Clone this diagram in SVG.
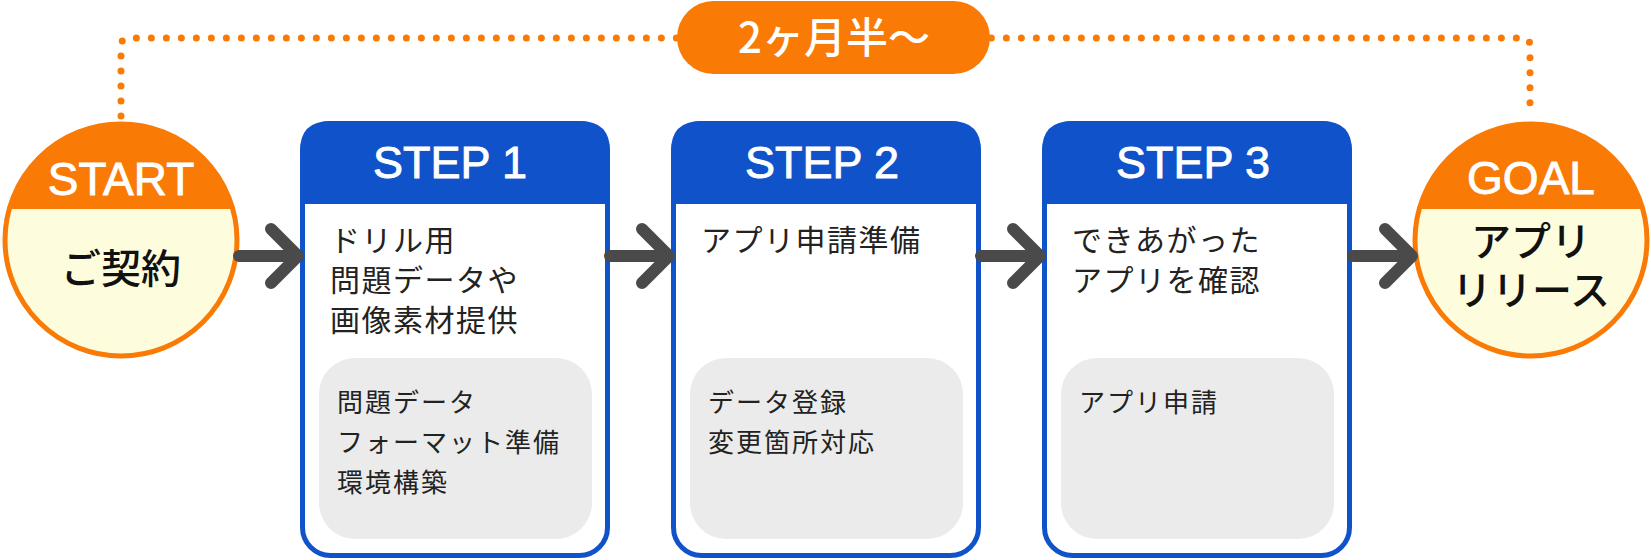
<svg xmlns="http://www.w3.org/2000/svg" width="1651" height="560" viewBox="0 0 1651 560">
<defs>
<style>
.jp{font-family:"Noto Sans CJK JP","Noto Sans",sans-serif;}
.lat{font-family:"Liberation Sans",Arial,sans-serif;font-weight:normal;fill:#fff;stroke:#fff;stroke-width:0.9px;}
.body{font-size:30px;letter-spacing:1.5px;fill:#222;}
.sub{font-size:26px;letter-spacing:2px;fill:#222;}
.circ{font-size:40px;font-weight:500;fill:#111;text-anchor:middle;}
.hdr{font-size:45px;text-anchor:middle;}
.box{fill:#fff;stroke:#0f52c9;stroke-width:5;}
.head{fill:#0f52c9;}
.grey{fill:#ebebeb;}
.arrow{fill:none;stroke:#4a4a4a;stroke-width:12;stroke-linecap:round;stroke-linejoin:round;}
.cream{fill:#fdfcdc;}
.orange{fill:#f97a05;}
.ring{fill:none;stroke:#f97a05;stroke-width:5;}
</style>
<clipPath id="cs"><circle cx="121" cy="240" r="117"/></clipPath>
<clipPath id="cg"><circle cx="1531" cy="240" r="117"/></clipPath>
</defs>
<g id="duration">
<path d="M121,116 V46 Q121,38 129,38 H1522 Q1530,38 1530,46 V116" fill="none" stroke="#f97a05" stroke-width="7" stroke-linecap="round" stroke-dasharray="0 15"/>
<rect x="677" y="1" width="313" height="73" rx="36.5" class="orange"/>
<text x="834" y="53" class="jp" font-size="42" font-weight="500" fill="#fff" text-anchor="middle">2ヶ月半〜</text>
</g>
<g id="start">
<circle cx="121" cy="240" r="117" class="cream"/>
<rect x="0" y="100" width="250" height="109" class="orange" clip-path="url(#cs)"/>
<circle cx="121" cy="240" r="116" class="ring"/>
<text x="121" y="195" class="lat" font-size="46" text-anchor="middle">START</text>
<text x="121" y="283" class="jp circ">ご契約</text>
</g>
<g id="step1">
<rect x="302.5" y="123.5" width="305" height="432" rx="28" class="box"/>
<path d="M300,204 V151 Q300,121 330,121 H580 Q610,121 610,151 V204 Z" class="head"/>
<text x="450" y="178" class="lat hdr">STEP 1</text>
<text class="jp body"><tspan x="330" y="251">ドリル用</tspan><tspan x="330" y="291">問題データや</tspan><tspan x="330" y="331">画像素材提供</tspan></text>
<rect x="319" y="358" width="273" height="181" rx="36" class="grey"/>
<text class="jp sub"><tspan x="337" y="412">問題データ</tspan><tspan x="337" y="452">フォーマット準備</tspan><tspan x="337" y="492">環境構築</tspan></text>
</g>
<g id="step2">
<rect x="673.5" y="123.5" width="305" height="432" rx="28" class="box"/>
<path d="M671,204 V151 Q671,121 701,121 H951 Q981,121 981,151 V204 Z" class="head"/>
<text x="822" y="178" class="lat hdr">STEP 2</text>
<text class="jp body"><tspan x="701" y="251">アプリ申請準備</tspan></text>
<rect x="690" y="358" width="273" height="181" rx="36" class="grey"/>
<text class="jp sub"><tspan x="708" y="412">データ登録</tspan><tspan x="708" y="452">変更箇所対応</tspan></text>
</g>
<g id="step3">
<rect x="1044.5" y="123.5" width="305" height="432" rx="28" class="box"/>
<path d="M1042,204 V151 Q1042,121 1072,121 H1322 Q1352,121 1352,151 V204 Z" class="head"/>
<text x="1193" y="178" class="lat hdr">STEP 3</text>
<text class="jp body"><tspan x="1072" y="251">できあがった</tspan><tspan x="1072" y="291">アプリを確認</tspan></text>
<rect x="1061" y="358" width="273" height="181" rx="36" class="grey"/>
<text class="jp sub"><tspan x="1079" y="412">アプリ申請</tspan></text>
</g>
<g id="goal">
<circle cx="1531" cy="240" r="117" class="cream"/>
<rect x="1400" y="100" width="251" height="109" class="orange" clip-path="url(#cg)"/>
<circle cx="1531" cy="240" r="116" class="ring"/>
<text x="1531" y="194" class="lat" font-size="46" text-anchor="middle">GOAL</text>
<text x="1531" y="256" class="jp circ">アプリ</text>
<text x="1531" y="305" class="jp circ">リリース</text>
</g>
<g id="connectors">
<path d="M239,256 H298 M271,229 L298,256 L271,283" class="arrow"/>
<path d="M610,256 H669 M642,229 L669,256 L642,283" class="arrow"/>
<path d="M981,256 H1040 M1013,229 L1040,256 L1013,283" class="arrow"/>
<path d="M1353,256 H1412 M1385,229 L1412,256 L1385,283" class="arrow"/>
</g>
</svg>
